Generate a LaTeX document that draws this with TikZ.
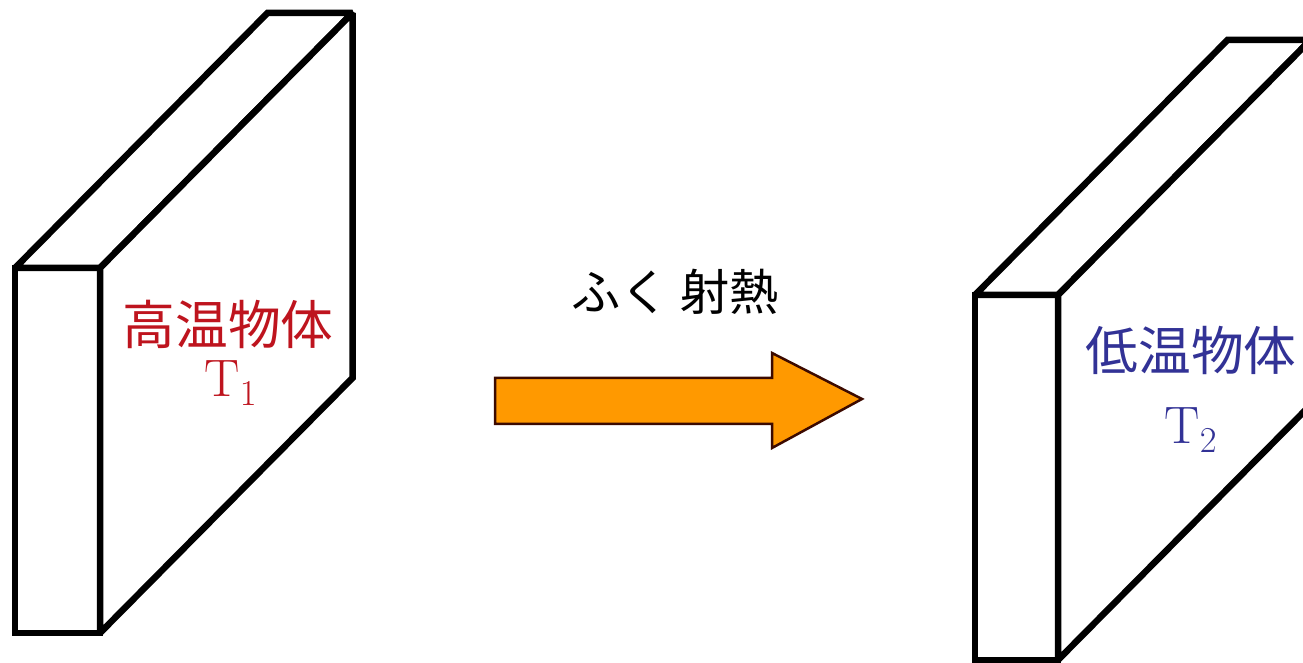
\documentclass[tikz,border=0pt]{standalone}
\usepackage{fontspec}
\newfontfamily\jp{Noto Sans CJK JP}
\usetikzlibrary{calc}
\definecolor{hotred}{RGB}{190,20,30}
\definecolor{coldblue}{RGB}{50,50,150}
\definecolor{rayorange}{RGB}{255,153,0}
\definecolor{raybrown}{RGB}{60,10,0}
\tikzset{slab/.style={draw,line width=0.13cm,line join=miter,miter limit=1.5,fill=white},
	jplbl/.style={font=\jp\fontsize{30}{34}\selectfont,inner sep=0pt},
	tlbl/.style={font=\fontsize{30}{34}\selectfont,inner sep=0pt}}

\begin{document}
\begin{tikzpicture}
			\clip(0,0)rectangle(26.06,13.26);
			% hot body
			\coordinate(ha)at(0.30,0.60);
			\coordinate(hb)at(2.00,7.90);
			\draw[slab](ha)rectangle(hb);
			\draw[slab](0.30,7.90)--++(5.05,5.10)--++(1.70,0)--(hb)--cycle;
			\draw[slab](hb)--++(5.05,5.10)--++(0,-7.30)--(2.00,0.60)--cycle;
			\node[jplbl,text=hotred](hotname)at(4.56,6.78){高温物体};
			\node[tlbl,text=hotred](hott)at(4.62,5.60){$\mathrm{T}_1$};
			% cold body
			\coordinate(ca)at(19.50,0.06);
			\coordinate(cb)at(21.16,7.36);
			\draw[slab](ca)rectangle(cb);
			\draw[slab](19.50,7.36)--++(5.05,5.10)--++(1.66,0)--(cb)--cycle;
			\draw[slab](cb)--++(5.05,5.10)--++(0,-7.30)--(21.16,0.06)--cycle;
			\node[jplbl,text=coldblue](coldname)at(23.82,6.26){低温物体};
			\node[tlbl,text=coldblue](coldt)at(23.82,4.66){$\mathrm{T}_2$};
			% radiation
			\node[jplbl,font=\jp\fontsize{28}{32}\selectfont](raylbl)at(13.50,7.42){ふく 射熱};
			\draw[fill=rayorange,draw=raybrown,line width=0.05cm,line join=miter]
				(9.90,4.78)--(9.90,5.70)--(15.44,5.70)--(15.44,6.20)--(17.24,5.28)
				--(15.44,4.30)--(15.44,4.78)--cycle;
		\end{tikzpicture}
\end{document}
